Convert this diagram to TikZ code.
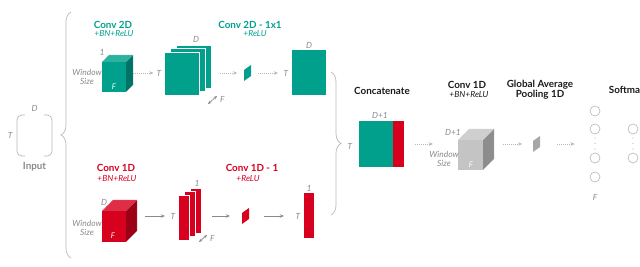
\documentclass[tikz,border=0pt]{standalone}
\usepackage{fontspec}
\setmainfont{Lato}
\usepackage{tikz}
\usetikzlibrary{arrows.meta, positioning, calc, decorations.pathreplacing, fit}
\definecolor{tealfill}{HTML}{00A08C}
\definecolor{redfill}{HTML}{D7001E}
\definecolor{greyfill}{HTML}{C4C4C4}
\definecolor{labelgray}{HTML}{8A8A8A}
\definecolor{linegray}{HTML}{B8B8B8}
\definecolor{textdark}{HTML}{1A1A1A}
\tikzset{
  darr/.style={-{Stealth[length=3pt, width=2.5pt]}, line width=0.45pt, linegray, densely dotted},
  sarr/.style={-{Stealth[length=3pt, width=2.5pt]}, line width=0.5pt, labelgray},
  farr/.style={{Stealth[length=2.5pt, width=2.2pt]}-{Stealth[length=2.5pt, width=2.2pt]}, line width=0.5pt, labelgray},
  ttl/.style={font=\fontsize{7}{7.2}\selectfont\bfseries, inner sep=1pt},
  subttl/.style={font=\fontsize{6}{6.5}\selectfont\itshape, inner sep=1pt},
  dimlbl/.style={font=\fontsize{6}{7}\selectfont\itshape, text=labelgray, inner sep=1pt},
  facelbl/.style={font=\fontsize{5.5}{6}\selectfont\itshape, text=white, inner sep=0pt},
  neuron/.style={circle, draw=linegray, line width=0.45pt, minimum size=0.25cm, inner sep=0pt},
  grp/.style={decorate, decoration={brace, amplitude=0.25cm}, linegray, line width=0.5pt},
  box/.style={inner sep=0pt, outer sep=0pt},
}
% cube: name, x, y (front top left), width, height, depth, colour
\newcommand{\blockcube}[7]{%
  \fill[#7!72!black] (#2+#4,#3) -- ++(#6,-#6) -- ++(0,#5) -- ++(-#6,#6) -- cycle;
  \fill[#7!82!white] (#2,#3) -- ++(#6,-#6) -- ++(#4,0) -- ++(-#6,#6) -- cycle;
  \fill[#7] (#2,#3) rectangle ++(#4,#5);
  \draw[white, densely dotted, line width=0.25pt] (#2,#3) -- ++(#6,-#6) -- ++(#4,0) -- ++(0,#5);
  \node[box, fit={(#2,#3-#6) (#2+#4+#6,#3+#5)}] (#1) {};
}
% stack of three maps: name, x, y (front top left), width, height, colour
\newcommand{\blockstack}[6]{%
  \foreach \k in {2,1,0} {
    \filldraw[fill=#6, draw=white, line width=0.3pt] (#2+6*\k,#3-3.5*\k) rectangle ++(#4,#5);
  }
  \node[box, fit={(#2,#3-7) (#2+#4+12,#3+#5)}] (#1) {};
}
% slanted slice: name, x, y (bottom left), colour
\newcommand{\blockslab}[4]{%
  \fill[#4] (#2,#3) -- ++(0,-11) -- ++(7,-5) -- ++(0,11) -- cycle;
  \node[box, fit={(#2,#3-16) (#2+7,#3)}] (#1) {};
}

\begin{document}
\begin{tikzpicture}[x=0.025cm, y=-0.025cm]
  \useasboundingbox (0,0) rectangle (640,267);
  \clip (0,0) rectangle (640,267);

  % Input
  \draw[linegray, line width=0.5pt, rounded corners=0.12cm] (25,115) -- (17,115) -- (17,156) -- (25,156);
  \draw[linegray, line width=0.5pt, rounded corners=0.12cm] (44,115) -- (52,115) -- (52,156) -- (44,156);
  \node[box, fit={(17,115) (52,156)}] (inmat) {};
  \node[dimlbl, above=1pt of inmat] (inD) {D};
  \node[dimlbl, left=2pt of inmat] (inT) {T};
  \node[ttl, text=labelgray, below=3pt of inmat] (input) {Input};
  \draw[grp] (71,258) -- (71,12);

  % Conv 2D branch
  \node[ttl, text=tealfill] (c2d) at (113,25) {Conv 2D};
  \node[subttl, text=tealfill] (c2dsub) at (114,34) {+BN+ReLU};
  \blockcube{tcube}{102}{62}{24}{30}{7}{tealfill}
  \node[dimlbl] (tcube1) at (102,52) {1};
  \node[dimlbl, align=center] (twin) at (87,77) {Window\\Size};
  \node[facelbl] (tcubeF) at (114,87) {F};
  \node[dimlbl] (tT1) at (159,73) {T};
  \draw[darr, shorten >=1pt] (tcube.east |- tT1) -- (tT1);
  \blockstack{tstack}{164}{52}{35}{43}{tealfill}
  \node[dimlbl] (tstackD) at (196,39) {D};
  \draw[farr] ($(tstack.south east)+(-3,9)$) -- ++(9,-8) node[dimlbl, below right=-1pt and 1pt] (tstackF) {F};
  \blockslab{tslab}{244}{81}{tealfill}
  \draw[darr, shorten <=0.22cm, shorten >=0.17cm] (tstack.east |- tslab) -- (tslab);
  \node[dimlbl] (tT2) at (286,73) {T};
  \draw[darr, shorten <=0.17cm, shorten >=0.1cm] (tslab) -- (tT2);
  \node[box, fill=tealfill, minimum width=0.85cm, minimum height=1.125cm] (tout) at (309,72.5) {};
  \node[dimlbl, above=0pt of tout] (toutD) {D};
  \node[ttl, text=tealfill] (c2d1) at (250,25) {Conv 2D - 1x1};
  \node[subttl, text=tealfill] (c2d1sub) at (255,34) {+ReLU};

  % Conv 1D branch
  \node[ttl, text=redfill] (c1d) at (116,168) {Conv 1D};
  \node[subttl, text=redfill] (c1dsub) at (117,179) {+BN+ReLU};
  \blockcube{rcube}{102}{211}{24}{31}{11}{redfill}
  \node[dimlbl] (rcubeD) at (104,202) {D};
  \node[dimlbl, align=center] (rwin) at (87,228) {Window\\Size};
  \node[facelbl] (rcubeF) at (113,236) {F};
  \node[dimlbl] (rT1) at (173,216) {T};
  \draw[sarr, shorten <=0.2cm, shorten >=0.1cm] (rcube.east |- rT1) -- (rT1);
  \blockstack{rstack}{178}{195}{11}{45}{redfill}
  \node[dimlbl] (rstack1) at (197,183) {1};
  \draw[farr] ($(rstack.south east)+(-2,2)$) -- ++(8,-7) node[dimlbl, below right=-1pt and 1pt] (rstackF) {F};
  \blockslab{rslab}{242}{224}{redfill}
  \draw[sarr, shorten <=0.27cm, shorten >=0.3cm] (rstack.east |- rslab) -- (rslab);
  \node[dimlbl] (rT2) at (298,216) {T};
  \draw[sarr, shorten <=0.37cm, shorten >=0.25cm] (rslab) -- (rT2);
  \node[box, fill=redfill, minimum width=0.25cm, minimum height=1.125cm] (rout) at (309,215.5) {};
  \node[dimlbl, above=0pt of rout] (rout1) {1};
  \node[ttl, text=redfill] (c1d1) at (252,168) {Conv 1D - 1};
  \node[subttl, text=redfill] (c1d1sub) at (248,179) {+ReLU};

  % Concatenate
  \draw[grp] (331,72) -- (331,215);
  \node[ttl, text=textdark] (concat) at (382,91) {Concatenate};
  \node[box, fill=tealfill, minimum width=0.85cm, minimum height=1.15cm] (cteal) at (376,144) {};
  \node[box, fill=redfill, minimum width=0.275cm, minimum height=1.15cm, right=0pt of cteal] (cred) {};
  \node[dimlbl] (concatD) at (380,115) {D+1};
  \node[dimlbl] (concatT) at (350,146) {T};

  % Conv 1D on the joined maps
  \node[ttl, text=textdark] (c1dg) at (467,85) {Conv 1D};
  \node[subttl, text=textdark] (c1dgsub) at (469,95) {+BN+ReLU};
  \blockcube{gcube}{458}{140}{25}{30}{11}{greyfill}
  \node[dimlbl] (gcubeD) at (453,132) {D+1};
  \node[dimlbl, align=center] (gwin) at (444,159) {Window\\Size};
  \node[facelbl] (gcubeF) at (471,165) {F};
  \draw[darr, shorten <=0.275cm, shorten >=0.625cm] (cred.east) -- (cred.east -| gcube.west);

  % Pooling and output
  \node[ttl, text=textdark, align=center] (gap) at (540,90) {Global Average\\Pooling 1D};
  \blockslab{gslab}{533}{152}{greyfill!85!black}
  \draw[darr, shorten <=0.22cm, shorten >=0.27cm] (gcube.east |- gslab) -- (gslab);
  \foreach \yy/\nm in {111/n1, 129/n2, 158/n3, 177/n4} \node[neuron] (\nm) at (595,\yy) {};
  \foreach \yy in {138,143.5,149} \fill[linegray] (595,\yy) circle (0.45pt);
  \draw[darr, shorten <=0.42cm, shorten >=0.375cm] (gslab.east) -- (gslab.east -| n2.west);
  \node[dimlbl] (nF) at (595,197) {F};
  \node[ttl, text=textdark] (smax) at (627,90) {Softmax};
  \foreach \yy/\nm in {129/s1, 158/s2} \node[neuron] (\nm) at (633,\yy) {};
  \foreach \yy in {138,143.5,149} \fill[linegray] (633,\yy) circle (0.45pt);
\end{tikzpicture}
\end{document}
